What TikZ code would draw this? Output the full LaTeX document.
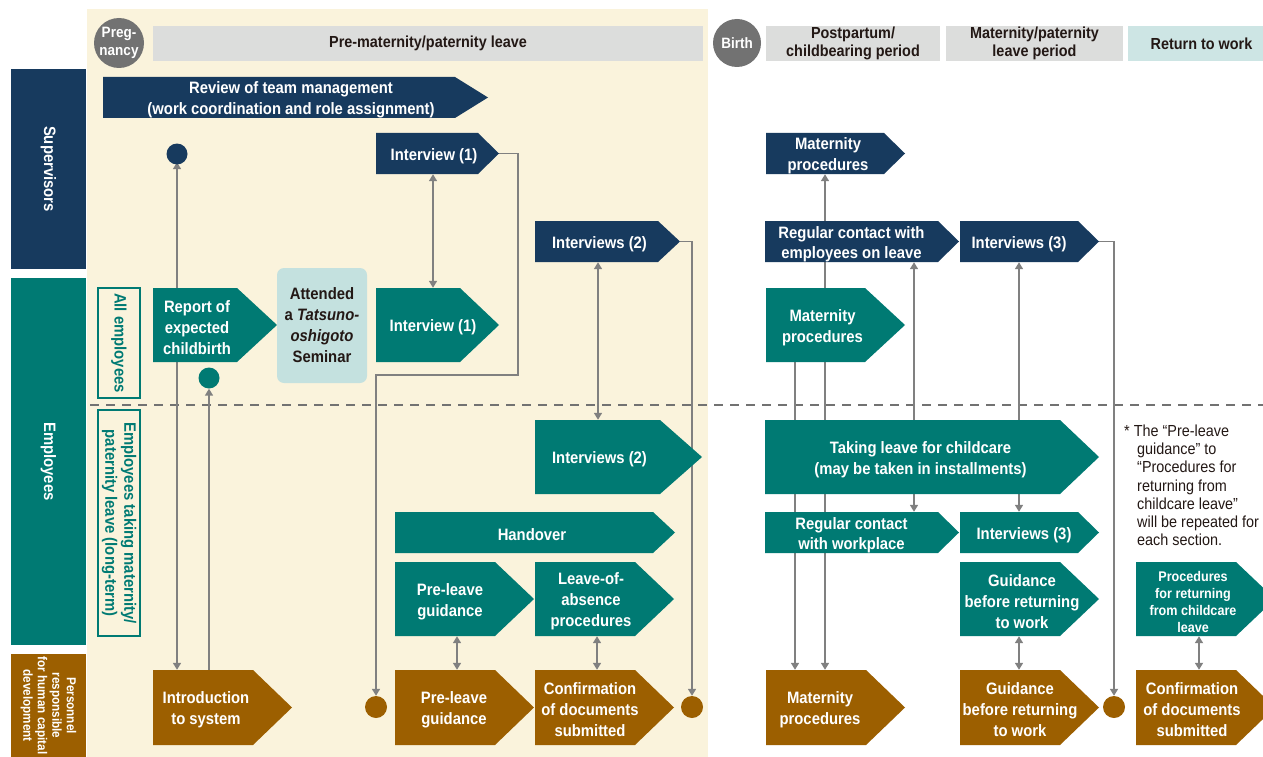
\documentclass[tikz,border=0pt]{standalone}
\usepackage{fontspec}
\setmainfont{Liberation Sans}[FakeStretch=0.9]
\usetikzlibrary{arrows.meta}
\definecolor{navy}{HTML}{173A5E}
\definecolor{cteal}{HTML}{007A73}
\definecolor{cbrown}{HTML}{9C5F00}
\definecolor{cream}{HTML}{FAF3DC}
\definecolor{hgray}{HTML}{DCDDDC}
\definecolor{lteal}{HTML}{C4E1DF}
\definecolor{rteal}{HTML}{CDE5E4}
\definecolor{dgray}{HTML}{727272}
\definecolor{cgray}{HTML}{808080}
\definecolor{ink}{HTML}{231815}
\pgfdeclarelayer{bg}
\pgfdeclarelayer{lines}
\pgfsetlayers{bg,lines,main}
\newcommand\bxfont{\fontsize{16.5}{21}\selectfont\bfseries}
\newcommand\hdfont{\fontsize{16}{18}\selectfont\bfseries}
\tikzset{
  lbl/.style={inner sep=0pt, text=white, align=center, font=\bxfont},
  hdr/.style={inner sep=0pt, text=ink, align=center, font=\hdfont},
  dot/.style={circle, inner sep=0pt, minimum size=21pt},
  con/.style={draw=cgray, line width=1.6pt},
  arr/.style={con, -{Triangle[width=8pt,length=7pt]}},
  darr/.style={con, {Triangle[width=8pt,length=7pt]}-{Triangle[width=8pt,length=7pt]}},
  dashline/.style={draw=dgray, line width=1.2pt, dash pattern=on 9pt off 7pt},
}
% #1 node options, #2 name, #3 x left, #4 x body end, #5 x tip, #6 y top, #7 y bottom, #8 colour, #9 text
\newcommand{\pent}[9][]{%
  \fill[#8] (#3,#6) -- (#4,#6) -- (#5,{(#6+#7)/2}) -- (#4,#7) -- (#3,#7) -- cycle;
  \coordinate (#2-tip) at (#5,{(#6+#7)/2});
  \node[lbl, minimum width={(#4-#3)*1pt}, minimum height={(#7-#6)*1pt}, yshift=-2.5pt, #1] (#2) at ({(#3+#4)/2},{(#6+#7)/2}) {#9};
}
\begin{document}
\begin{tikzpicture}[x=1pt,y=-1pt]
\useasboundingbox (0,0) rectangle (1263,757);
\begin{pgfonlayer}{bg}
  \fill[white] (0,0) rectangle (1263,757);
  \fill[cream] (87,9) rectangle (708,757);
\end{pgfonlayer}
\begin{scope}
\clip (0,0) rectangle (1263,757);

% headers
\node[hdr, fill=hgray, minimum width=550pt, minimum height=35pt] (h1) at (428,43.5) {Pre-maternity/paternity leave};
\node[hdr, fill=hgray, minimum width=174pt, minimum height=35pt] (h2) at (853,43.5) {Postpartum/\\childbearing period};
\node[hdr, fill=hgray, minimum width=177pt, minimum height=35pt] (h3) at (1034.5,43.5) {Maternity/paternity\\leave period};
\node[hdr, fill=rteal, minimum width=147pt, minimum height=35pt] (h4) at (1201.5,43.5) {Return to work};
\node[circle, fill=dgray, minimum size=50pt, inner sep=0pt, text=white, align=center, font=\fontsize{15}{18}\selectfont\bfseries] (preg) at (119,43) {Preg-\\nancy};
\node[circle, fill=dgray, minimum size=48pt, inner sep=0pt, text=white, font=\fontsize{15}{18}\selectfont\bfseries] (birth) at (737,43) {Birth};

% left column
\node[lbl, fill=navy, rotate=-90, minimum width=200pt, minimum height=75pt] (sup) at (48.5,169) {Supervisors};
\node[lbl, fill=cteal, rotate=-90, minimum width=367pt, minimum height=75pt] (emp) at (48.5,461.5) {Employees};
\node[lbl, fill=cbrown, rotate=-90, minimum width=103pt, minimum height=75pt, font=\fontsize{13}{14.5}\selectfont\bfseries] (pers) at (48.5,705.5) {Personnel\\responsible\\for human capital\\development};
\node[draw=cteal, line width=1.5pt, rotate=-90, minimum width=110pt, minimum height=42pt, inner sep=0pt, text=cteal, font=\bxfont] (allemp) at (119,343) {All employees};
\node[draw=cteal, line width=1.5pt, rotate=-90, minimum width=226pt, minimum height=42pt, inner sep=0pt, text=cteal, align=center, font=\fontsize{16.5}{19}\selectfont\bfseries] (ltemp) at (119,523) {Employees taking maternity/\\paternity leave (long-term)};

% supervisors row
\pent[xshift=12pt]{rev}{103}{455}{488}{77}{118}{navy}{Review of team management\\(work coordination and role assignment)}
\pent[xshift=7pt]{int1s}{376}{478}{499}{133}{174}{navy}{Interview (1)}
\pent[xshift=3pt]{int2s}{535}{658}{680}{221}{262}{navy}{Interviews (2)}
\pent[xshift=3pt]{mats}{766}{884}{905}{133}{174}{navy}{Maternity\\procedures}
\pent[font=\fontsize{16.5}{19.5}\selectfont\bfseries]{regs}{765}{938}{959}{221}{262}{navy}{Regular contact with\\employees on leave}
\pent{int3s}{960}{1078}{1099}{221}{262}{navy}{Interviews (3)}

% all employees row
\pent[xshift=2pt]{rep}{153}{237}{277}{288}{362}{cteal}{Report of\\expected\\childbirth}
\node[fill=lteal, rounded corners=7pt, minimum width=90pt, minimum height=115pt, inner sep=0pt, text=ink, align=center, font=\bxfont] (sem) at (322,325.5) {Attended\\a \textit{Tatsuno-}\\\textit{oshigoto}\\Seminar};
\pent[xshift=15pt]{int1e}{376}{460}{499}{288}{362}{cteal}{Interview (1)}
\pent[xshift=7pt]{mate}{766}{865}{905}{288}{362}{cteal}{Maternity\\procedures}

% long-term row
\pent[xshift=2pt]{int2e}{535}{660}{702}{420}{494}{cteal}{Interviews (2)}
\pent[xshift=8pt]{take}{765}{1060}{1099}{420}{494}{cteal}{Taking leave for childcare\\(may be taken in installments)}
\pent[xshift=8pt]{hand}{395}{653}{675}{512}{553}{cteal}{Handover}
\pent[xshift=5pt]{plge}{395}{495}{534}{562}{636}{cteal}{Pre-leave\\guidance}
\pent[xshift=6pt]{loa}{535}{635}{674}{562}{636}{cteal}{Leave-of-\\absence\\procedures}
\pent[font=\fontsize{16.5}{19.5}\selectfont\bfseries]{regw}{765}{938}{959}{512}{553}{cteal}{Regular contact\\with workplace}
\pent[xshift=5pt]{int3e}{960}{1078}{1099}{512}{553}{cteal}{Interviews (3)}
\pent[xshift=12pt]{gbre}{960}{1060}{1099}{562}{636}{cteal}{Guidance\\before returning\\to work}
\pent[xshift=7pt, font=\fontsize{14}{17}\selectfont\bfseries]{proc}{1136}{1236}{1275}{562}{636}{cteal}{Procedures\\for returning\\from childcare\\leave}

% personnel row
\pent[xshift=3pt]{intro}{153}{253}{292}{670}{745}{cbrown}{Introduction\\to system}
\pent[xshift=9pt]{plgp}{395}{495}{534}{670}{745}{cbrown}{Pre-leave\\guidance}
\pent[xshift=5pt]{conf1}{535}{635}{674}{670}{745}{cbrown}{Confirmation\\of documents\\submitted}
\pent[xshift=4pt]{matp}{766}{866}{905}{670}{745}{cbrown}{Maternity\\procedures}
\pent[xshift=10pt]{gbrp}{960}{1060}{1099}{670}{745}{cbrown}{Guidance\\before returning\\to work}
\pent[xshift=6pt]{conf2}{1136}{1236}{1275}{670}{745}{cbrown}{Confirmation\\of documents\\submitted}

% dots
\node[dot, fill=navy] (cs) at (177,154) {};
\node[dot, fill=cteal] (ce) at (209,378) {};
\node[dot, fill=cbrown, minimum size=22pt] (cb1) at (376,707) {};
\node[dot, fill=cbrown, minimum size=22pt] (cb2) at (692,707) {};
\node[dot, fill=cbrown, minimum size=22pt] (cb3) at (1114,707) {};

% footnote
\node[anchor=north west, align=left, inner sep=0pt, text=ink, font=\fontsize{16}{18.1}\selectfont] (note) at (1124,425)
  {* The “Pre-leave\\\hspace*{13pt}guidance” to\\\hspace*{13pt}“Procedures for\\\hspace*{13pt}returning from\\\hspace*{13pt}childcare leave”\\\hspace*{13pt}will be repeated for\\\hspace*{13pt}each section.};
\end{scope}

% connectors
\coordinate (xA) at (433,0);
\coordinate (xB) at (598,0);
\coordinate (xC) at (457,0);
\coordinate (xD) at (597,0);
\coordinate (xE) at (825,0);
\coordinate (xF) at (795,0);
\coordinate (xG) at (914,0);
\coordinate (xH) at (1019,0);
\coordinate (xI) at (1199,0);
\coordinate (k1) at (518,375);
\begin{pgfonlayer}{lines}
  \draw[dashline] (90,405) -- (1263,405);
  \draw[darr] ([yshift=2.5pt]cs.south) -- ([yshift=2.5pt]intro.north -| cs);
  \draw[arr] ([yshift=2.5pt]intro.north -| ce) -- (ce.south);
  \draw[darr] ([yshift=2.5pt]int1s.south -| xA) -- ([yshift=2.5pt]int1e.north -| xA);
  \draw[arr] (int1s-tip) -| (k1) -| (cb1.north);
  \draw[darr] ([yshift=2.5pt]int2s.south -| xB) -- ([yshift=2.5pt]int2e.north -| xB);
  \draw[arr] (int2s-tip) -| (cb2.north);
  \draw[darr] ([yshift=2.5pt]plge.south -| xC) -- ([yshift=2.5pt]plgp.north -| xC);
  \draw[darr] ([yshift=2.5pt]loa.south -| xD) -- ([yshift=2.5pt]conf1.north -| xD);
  \draw[darr] ([yshift=2.5pt]mats.south -| xE) -- ([yshift=2.5pt]matp.north -| xE);
  \draw[arr] ([yshift=2.5pt]mate.south -| xF) -- ([yshift=2.5pt]matp.north -| xF);
  \draw[darr] ([yshift=2.5pt]regs.south -| xG) -- ([yshift=2.5pt]regw.north -| xG);
  \draw[darr] ([yshift=2.5pt]int3s.south -| xH) -- ([yshift=2.5pt]int3e.north -| xH);
  \draw[arr] (int3s-tip) -| (cb3.north);
  \draw[darr] ([yshift=2.5pt]gbre.south -| xH) -- ([yshift=2.5pt]gbrp.north -| xH);
  \draw[darr] ([yshift=2.5pt]proc.south -| xI) -- ([yshift=2.5pt]conf2.north -| xI);
\end{pgfonlayer}
\end{tikzpicture}
\end{document}
